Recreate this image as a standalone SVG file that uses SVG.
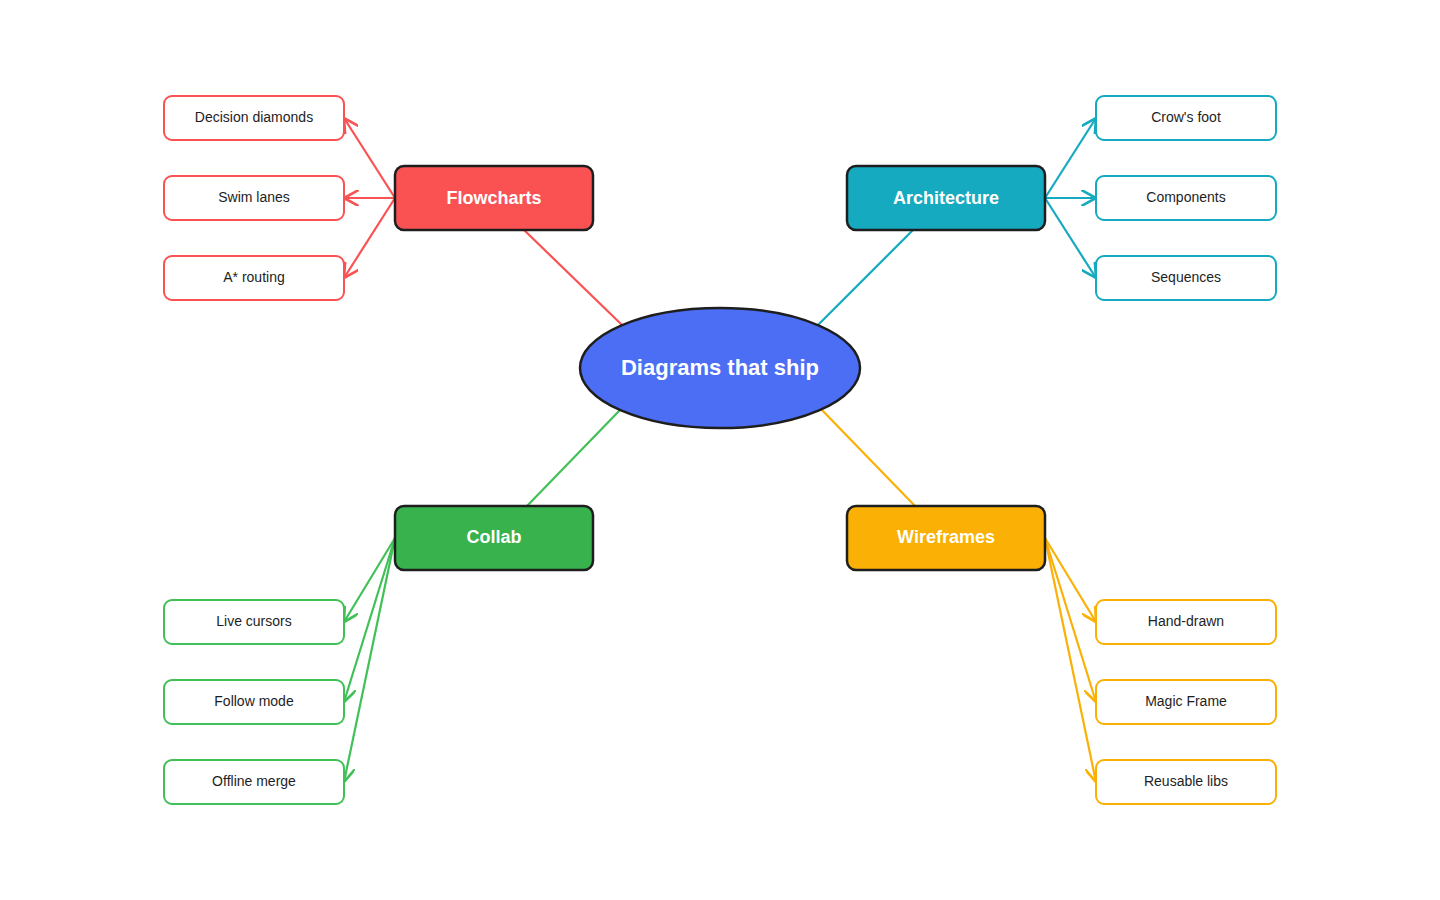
<svg xmlns="http://www.w3.org/2000/svg" width="1440" height="900" viewBox="0 0 1440 900">
<style>
text{font-family:"Liberation Sans",Arial,sans-serif;text-anchor:middle;dominant-baseline:central}
.hub{stroke:#1e1e1e;stroke-width:2.5}
.ht{fill:#fff;font-size:18px;font-weight:bold}
.leaf{fill:#fff;stroke-width:2}
.lt{fill:#1e1e1e;font-size:14px}
.c{fill:none;stroke-width:2.2}
</style>
<defs>
<marker id="ar" viewBox="0 0 12 12" refX="11" refY="6" markerWidth="12" markerHeight="12" markerUnits="userSpaceOnUse" orient="auto"><path d="M0 0L11 6L0 12" fill="none" stroke="context-stroke" stroke-width="2"/></marker>
<marker id="r" viewBox="0 0 12 12" refX="11" refY="6" markerWidth="16" markerHeight="16" markerUnits="userSpaceOnUse" orient="auto"><path d="M0 0L11 6L0 12" fill="none" stroke="#fa5252" stroke-width="2"/></marker>
<marker id="b" viewBox="0 0 12 12" refX="11" refY="6" markerWidth="16" markerHeight="16" markerUnits="userSpaceOnUse" orient="auto"><path d="M0 0L11 6L0 12" fill="none" stroke="#15aabf" stroke-width="2"/></marker>
<marker id="g" viewBox="0 0 12 12" refX="11" refY="6" markerWidth="16" markerHeight="16" markerUnits="userSpaceOnUse" orient="auto"><path d="M0 0L11 6L0 12" fill="none" stroke="#40c057" stroke-width="2"/></marker>
<marker id="y" viewBox="0 0 12 12" refX="11" refY="6" markerWidth="16" markerHeight="16" markerUnits="userSpaceOnUse" orient="auto"><path d="M0 0L11 6L0 12" fill="none" stroke="#fab005" stroke-width="2"/></marker>
</defs>
<rect width="1440" height="900" fill="#fff"/>
<g id="connectors">
<path class="c" stroke="#fa5252" d="M622 325L522 228"/>
<path class="c" stroke="#15aabf" d="M818 325L915 228"/>
<path class="c" stroke="#40c057" d="M620 410L527 506"/>
<path class="c" stroke="#fab005" d="M820 408L915 506"/>
<path class="c" stroke="#fa5252" marker-end="url(#r)" d="M395 198L344 118"/>
<path class="c" stroke="#fa5252" marker-end="url(#r)" d="M395 198L344 198"/>
<path class="c" stroke="#fa5252" marker-end="url(#r)" d="M395 198L344 278"/>
<path class="c" stroke="#15aabf" marker-end="url(#b)" d="M1045 198L1096 118"/>
<path class="c" stroke="#15aabf" marker-end="url(#b)" d="M1045 198L1096 198"/>
<path class="c" stroke="#15aabf" marker-end="url(#b)" d="M1045 198L1096 278"/>
<path class="c" stroke="#40c057" marker-end="url(#g)" d="M395 538L344 622"/>
<path class="c" stroke="#40c057" marker-end="url(#g)" d="M395 538L344 702"/>
<path class="c" stroke="#40c057" marker-end="url(#g)" d="M395 538L344 782"/>
<path class="c" stroke="#fab005" marker-end="url(#y)" d="M1045 538L1096 622"/>
<path class="c" stroke="#fab005" marker-end="url(#y)" d="M1045 538L1096 702"/>
<path class="c" stroke="#fab005" marker-end="url(#y)" d="M1045 538L1096 782"/>
</g>
<g id="center"><ellipse class="hub" cx="720" cy="368" rx="140" ry="60" fill="#4c6ef5"/><text x="720" y="367" fill="#fff" font-size="22" font-weight="bold">Diagrams that ship</text></g>
<g id="flowcharts"><rect class="hub" x="395" y="166" width="198" height="64" rx="9" fill="#fa5252"/><text class="ht" x="494" y="198">Flowcharts</text></g>
<g id="architecture"><rect class="hub" x="847" y="166" width="198" height="64" rx="9" fill="#15aabf"/><text class="ht" x="946" y="198">Architecture</text></g>
<g id="collab"><rect class="hub" x="395" y="506" width="198" height="64" rx="9" fill="#37b24d"/><text class="ht" x="494" y="537">Collab</text></g>
<g id="wireframes"><rect class="hub" x="847" y="506" width="198" height="64" rx="9" fill="#fab005"/><text class="ht" x="946" y="537">Wireframes</text></g>
<g id="decision"><rect class="leaf" stroke="#fa5252" x="164" y="96" width="180" height="44" rx="8"/><text class="lt" x="254" y="117">Decision diamonds</text></g>
<g id="swim"><rect class="leaf" stroke="#fa5252" x="164" y="176" width="180" height="44" rx="8"/><text class="lt" x="254" y="197">Swim lanes</text></g>
<g id="astar"><rect class="leaf" stroke="#fa5252" x="164" y="256" width="180" height="44" rx="8"/><text class="lt" x="254" y="277">A* routing</text></g>
<g id="crow"><rect class="leaf" stroke="#15aabf" x="1096" y="96" width="180" height="44" rx="8"/><text class="lt" x="1186" y="117">Crow's foot</text></g>
<g id="components"><rect class="leaf" stroke="#15aabf" x="1096" y="176" width="180" height="44" rx="8"/><text class="lt" x="1186" y="197">Components</text></g>
<g id="sequences"><rect class="leaf" stroke="#15aabf" x="1096" y="256" width="180" height="44" rx="8"/><text class="lt" x="1186" y="277">Sequences</text></g>
<g id="live"><rect class="leaf" stroke="#40c057" x="164" y="600" width="180" height="44" rx="8"/><text class="lt" x="254" y="621">Live cursors</text></g>
<g id="follow"><rect class="leaf" stroke="#40c057" x="164" y="680" width="180" height="44" rx="8"/><text class="lt" x="254" y="701">Follow mode</text></g>
<g id="offline"><rect class="leaf" stroke="#40c057" x="164" y="760" width="180" height="44" rx="8"/><text class="lt" x="254" y="781">Offline merge</text></g>
<g id="hand"><rect class="leaf" stroke="#fab005" x="1096" y="600" width="180" height="44" rx="8"/><text class="lt" x="1186" y="621">Hand-drawn</text></g>
<g id="magic"><rect class="leaf" stroke="#fab005" x="1096" y="680" width="180" height="44" rx="8"/><text class="lt" x="1186" y="701">Magic Frame</text></g>
<g id="reusable"><rect class="leaf" stroke="#fab005" x="1096" y="760" width="180" height="44" rx="8"/><text class="lt" x="1186" y="781">Reusable libs</text></g>
</svg>
